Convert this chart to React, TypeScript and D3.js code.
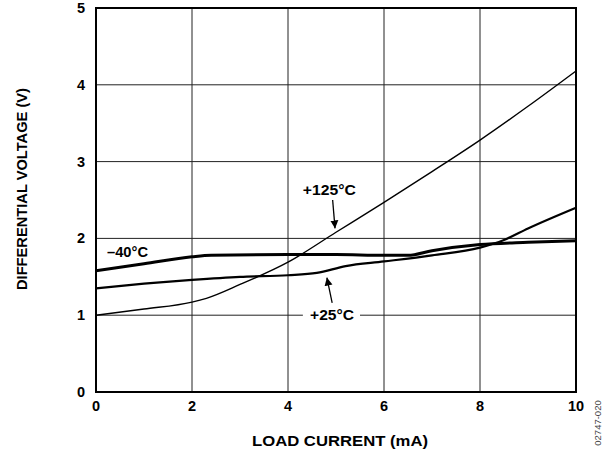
import React from 'react';
import * as d3 from 'd3';

// Load current (mA) vs differential voltage (V)
const hotX = [0, 1, 2, 2.3, 3, 4, 5, 6, 7, 8, 9, 10];
const hotY = [1.0, 1.08, 1.17, 1.22, 1.4, 1.69, 2.08, 2.47, 2.87, 3.28, 3.72, 4.18];

const coldX = [0, 1, 2, 2.4, 4, 5, 6, 6.5, 7, 8, 9, 10];
const coldY = [1.58, 1.67, 1.76, 1.78, 1.79, 1.79, 1.78, 1.78, 1.84, 1.92, 1.95, 1.97];

const roomX = [0, 1, 2, 3, 4, 4.6, 5.2, 6, 7, 8, 8.5, 9, 10];
const roomY = [1.35, 1.41, 1.46, 1.5, 1.52, 1.55, 1.64, 1.7, 1.78, 1.88, 1.98, 2.13, 2.4];

const xTicks = [0, 2, 4, 6, 8, 10];
const yTicks = [0, 1, 2, 3, 4, 5];

type Pt = [number, number];
const zip = (xs: number[], ys: number[]): Pt[] => xs.map((x, i) => [x, ys[i]]);

const App: React.FC = () => {
    const width = 615;
    const height = 458;
    const margin = { top: 8, right: 39, bottom: 66, left: 96 };
    const innerW = width - margin.left - margin.right;
    const innerH = height - margin.top - margin.bottom;

    const x = d3.scaleLinear().domain([0, 10]).range([0, innerW]);
    const y = d3.scaleLinear().domain([0, 5]).range([innerH, 0]);

    const line = d3.line<Pt>()
        .x(d => x(d[0]))
        .y(d => y(d[1]))
        .curve(d3.curveMonotoneX);

    const font = '"Liberation Sans", Arial, sans-serif';
    const fs = 14.5;

    return (
        <svg width={width} height={height} style={{ position: 'absolute', left: 0, top: 0 }}>
            <defs>
                <marker id="arrow" viewBox="0 0 10 10" refX="10" refY="5" markerWidth="8" markerHeight="10" orient="auto" markerUnits="userSpaceOnUse">
                    <path d="M0,0 L10,5 L0,10 z" fill="#000" />
                </marker>
            </defs>
            <rect width={width} height={height} fill="#fff" />
            <g transform={`translate(${margin.left},${margin.top})`}>
                {/* grid */}
                {xTicks.slice(1, -1).map(t => (
                    <line key={'gx' + t} x1={x(t)} x2={x(t)} y1={0} y2={innerH} stroke="#222" strokeWidth={1} />
                ))}
                {yTicks.slice(1, -1).map(t => (
                    t === 1 ? (
                        <g key={'gy' + t}>
                            <line x1={0} x2={x(4.31)} y1={y(t)} y2={y(t)} stroke="#222" strokeWidth={1} />
                            <line x1={x(5.5)} x2={innerW} y1={y(t)} y2={y(t)} stroke="#222" strokeWidth={1} />
                        </g>
                    ) : (
                        <line key={'gy' + t} x1={0} x2={innerW} y1={y(t)} y2={y(t)} stroke="#222" strokeWidth={1} />
                    )
                ))}
                <rect x={0} y={0} width={innerW} height={innerH} fill="none" stroke="#000" strokeWidth={2} />

                {/* curves */}
                <path d={line(zip(hotX, hotY)) || ''} fill="none" stroke="#000" strokeWidth={1.4} />
                <path d={line(zip(roomX, roomY)) || ''} fill="none" stroke="#000" strokeWidth={2.2} />
                <path d={line(zip(coldX, coldY)) || ''} fill="none" stroke="#000" strokeWidth={3} />

                {/* annotations */}
                <text x={x(0.23)} y={y(1.758)} fontFamily={font} fontWeight="bold" fontSize={fs} textLength={41} lengthAdjust="spacingAndGlyphs">–40°C</text>
                <text x={x(4.31)} y={y(2.565)} fontFamily={font} fontWeight="bold" fontSize={fs} textLength={53} lengthAdjust="spacingAndGlyphs">+125°C</text>
                <line x1={x(4.93)} y1={y(2.5)} x2={x(4.98)} y2={y(2.13)} stroke="#000" strokeWidth={1.3} markerEnd="url(#arrow)" />
                <text x={x(4.46)} y={y(0.9375)} fontFamily={font} fontWeight="bold" fontSize={fs} textLength={44} lengthAdjust="spacingAndGlyphs">+25°C</text>
                <line x1={x(4.92)} y1={y(1.16)} x2={x(4.81)} y2={y(1.49)} stroke="#000" strokeWidth={1.3} markerEnd="url(#arrow)" />

                {/* tick labels */}
                {xTicks.map(t => (
                    <text key={'xt' + t} x={x(t)} y={innerH + 19} textAnchor="middle" fontFamily={font} fontWeight="bold" fontSize={fs}>{t}</text>
                ))}
                {yTicks.map(t => (
                    <text key={'yt' + t} x={-11} y={y(t) + 5} textAnchor="end" fontFamily={font} fontWeight="bold" fontSize={fs}>{t}</text>
                ))}

                <text x={244} y={innerH + 54} textAnchor="middle" fontFamily={font} fontWeight="bold" fontSize={15} textLength={176} lengthAdjust="spacingAndGlyphs">LOAD CURRENT  (mA)</text>
                <text transform={`translate(${-69},${181}) rotate(-90)`} textAnchor="middle" fontFamily={font} fontWeight="bold" fontSize={fs} textLength={202} lengthAdjust="spacingAndGlyphs">DIFFERENTIAL VOLTAGE (V)</text>
            </g>
            <text transform="translate(601,423) rotate(-90)" textAnchor="middle" fontFamily={font} fontSize={9.5} fill="#444">02747-020</text>
        </svg>
    );
};

export default App;
